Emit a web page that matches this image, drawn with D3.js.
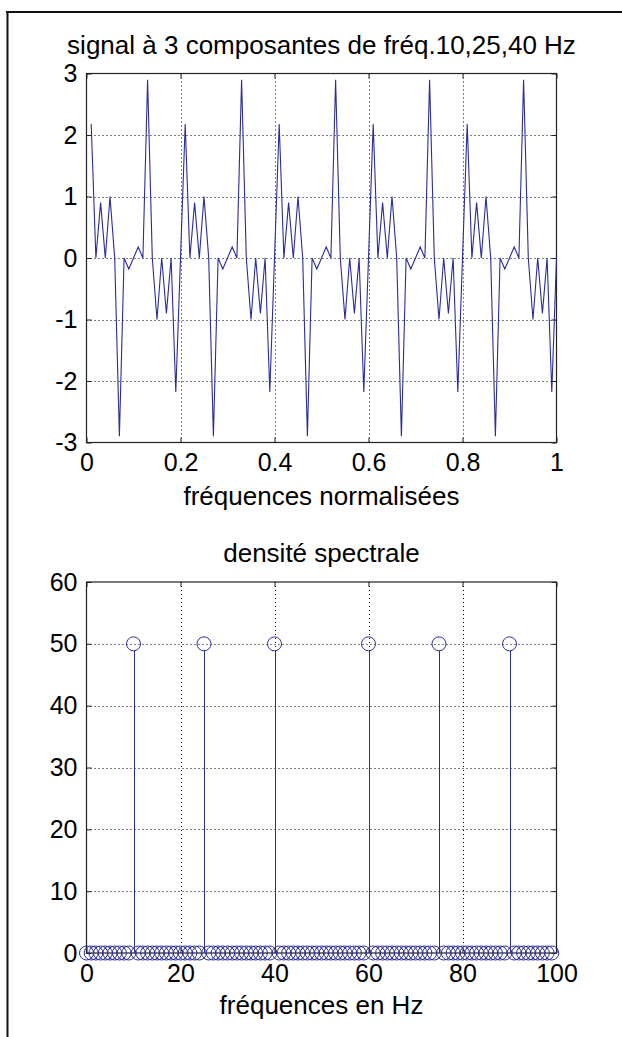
<!DOCTYPE html>
<html>
<head>
<meta charset="utf-8">
<script src="https://cdn.jsdelivr.net/npm/d3@7"></script>
<style>
  html, body { margin: 0; padding: 0; background: #fff; }
  svg { display: block; }
  text { font-family: "Liberation Sans", Arial, sans-serif; fill: #000; }
</style>
</head>
<body>
<script>
// ---------- DATA ----------
// top panel: sampled signal, t = 0.01 .. 1.00 (100 samples)
const signalTitle = "signal à 3 composantes de fréq.10,25,40 Hz";
const signalXLabel = "fréquences normalisées";
const signalTimes = [
  0.01,0.02,0.03,0.04,0.05,0.06,0.07,0.08,0.09,0.10,0.11,0.12,0.13,0.14,0.15,0.16,0.17,0.18,0.19,0.20,
  0.21,0.22,0.23,0.24,0.25,0.26,0.27,0.28,0.29,0.30,0.31,0.32,0.33,0.34,0.35,0.36,0.37,0.38,0.39,0.40,
  0.41,0.42,0.43,0.44,0.45,0.46,0.47,0.48,0.49,0.50,0.51,0.52,0.53,0.54,0.55,0.56,0.57,0.58,0.59,0.60,
  0.61,0.62,0.63,0.64,0.65,0.66,0.67,0.68,0.69,0.70,0.71,0.72,0.73,0.74,0.75,0.76,0.77,0.78,0.79,0.80,
  0.81,0.82,0.83,0.84,0.85,0.86,0.87,0.88,0.89,0.90,0.91,0.92,0.93,0.94,0.95,0.96,0.97,0.98,0.99,1.00
];
const signalValues = [
  2.18,0,0.90,0,1.00,0,-2.90,0,-0.18,0,0.18,0,2.90,0,-1.00,0,-0.90,0,-2.18,0,
  2.18,0,0.90,0,1.00,0,-2.90,0,-0.18,0,0.18,0,2.90,0,-1.00,0,-0.90,0,-2.18,0,
  2.18,0,0.90,0,1.00,0,-2.90,0,-0.18,0,0.18,0,2.90,0,-1.00,0,-0.90,0,-2.18,0,
  2.18,0,0.90,0,1.00,0,-2.90,0,-0.18,0,0.18,0,2.90,0,-1.00,0,-0.90,0,-2.18,0,
  2.18,0,0.90,0,1.00,0,-2.90,0,-0.18,0,0.18,0,2.90,0,-1.00,0,-0.90,0,-2.18,0
];
const signalXTicks = [0, 0.2, 0.4, 0.6, 0.8, 1];
const signalYTicks = [-3, -2, -1, 0, 1, 2, 3];

// bottom panel: spectrum magnitude, bins 0..99 Hz
const spectrumTitle = "densité spectrale";
const spectrumXLabel = "fréquences en Hz";
const spectrumFreqs = [
  0,1,2,3,4,5,6,7,8,9,10,11,12,13,14,15,16,17,18,19,
  20,21,22,23,24,25,26,27,28,29,30,31,32,33,34,35,36,37,38,39,
  40,41,42,43,44,45,46,47,48,49,50,51,52,53,54,55,56,57,58,59,
  60,61,62,63,64,65,66,67,68,69,70,71,72,73,74,75,76,77,78,79,
  80,81,82,83,84,85,86,87,88,89,90,91,92,93,94,95,96,97,98,99
];
const spectrumValues = [
  0,0,0,0,0,0,0,0,0,0,50,0,0,0,0,0,0,0,0,0,
  0,0,0,0,0,50,0,0,0,0,0,0,0,0,0,0,0,0,0,0,
  50,0,0,0,0,0,0,0,0,0,0,0,0,0,0,0,0,0,0,0,
  50,0,0,0,0,0,0,0,0,0,0,0,0,0,0,50,0,0,0,0,
  0,0,0,0,0,0,0,0,0,0,50,0,0,0,0,0,0,0,0,0
];
const spectrumXTicks = [0, 20, 40, 60, 80, 100];
const spectrumYTicks = [0, 10, 20, 30, 40, 50, 60];

// ---------- DRAW ----------
const W = 622, H = 1037;
const blue = "#2c2c9c";
const svg = d3.select("body").append("svg").attr("width", W).attr("height", H);
svg.append("rect").attr("width", W).attr("height", H).attr("fill", "#fff");

// outer figure frame
svg.append("line").attr("x1", 6).attr("x2", W).attr("y1", 12).attr("y2", 12)
  .attr("stroke", "#111").attr("stroke-width", 2);
svg.append("line").attr("x1", 7.5).attr("x2", 7.5).attr("y1", 11).attr("y2", H)
  .attr("stroke", "#111").attr("stroke-width", 2);

const fmt = d => String(d);

function panel(cfg) {
  const { x, y, xTicks, yTicks, title, titleY, xlabel, xlabelY } = cfg;
  const [x0, x1] = x.range();
  const [y0, y1] = y.range(); // y0 bottom, y1 top
  const g = svg.append("g");

  // grid
  g.append("g").selectAll("line").data(xTicks.filter(d => d !== x.domain()[0] && d !== x.domain()[1]))
    .join("line")
    .attr("x1", d => Math.round(x(d)) + 0.5).attr("x2", d => Math.round(x(d)) + 0.5)
    .attr("y1", y1).attr("y2", y0)
    .attr("stroke", "#000").attr("stroke-width", 1).attr("stroke-dasharray", "1,3");
  g.append("g").selectAll("line").data(yTicks.filter(d => d !== y.domain()[0] && d !== y.domain()[1]))
    .join("line")
    .attr("y1", d => Math.round(y(d)) + 0.5).attr("y2", d => Math.round(y(d)) + 0.5)
    .attr("x1", x0).attr("x2", x1)
    .attr("stroke", "#000").attr("stroke-width", 1).attr("stroke-dasharray", "1,3");

  // axes (inward ticks)
  const ax = (gen) => gen.tickSizeInner(-5).tickSizeOuter(0);
  const gb = g.append("g").attr("transform", `translate(0,${y0})`)
    .call(ax(d3.axisBottom(x).tickValues(xTicks).tickFormat(fmt)).tickPadding(11));
  const gt = g.append("g").attr("transform", `translate(0,${y1})`)
    .call(ax(d3.axisTop(x).tickValues(xTicks).tickFormat("")));
  const gl = g.append("g").attr("transform", `translate(${x0},0)`)
    .call(ax(d3.axisLeft(y).tickValues(yTicks).tickFormat(fmt)).tickPadding(9));
  const gr = g.append("g").attr("transform", `translate(${x1},0)`)
    .call(ax(d3.axisRight(y).tickValues(yTicks).tickFormat("")));
  [gb, gt, gl, gr].forEach(a => {
    a.select(".domain").remove();
    a.selectAll("line").attr("stroke", "#222");
    a.selectAll("text").attr("font-size", 25)
      .attr("font-family", '"Liberation Sans", Arial, sans-serif').attr("fill", "#000");
  });

  // box
  g.append("rect").attr("x", x0).attr("y", y1).attr("width", x1 - x0).attr("height", y0 - y1)
    .attr("fill", "none").attr("stroke", "#222").attr("stroke-width", 1.2);

  // title & label
  const cx = (x0 + x1) / 2;
  g.append("text").attr("x", cx).attr("y", titleY).attr("text-anchor", "middle")
    .attr("font-size", 26).text(title);
  g.append("text").attr("x", cx).attr("y", xlabelY).attr("text-anchor", "middle")
    .attr("font-size", 26).text(xlabel);
  return g;
}

// top panel
const xS = d3.scaleLinear().domain([0, 1]).range([86.5, 556.5]);
const yS = d3.scaleLinear().domain([-3, 3]).range([442.5, 73.5]);
const gTop = panel({ x: xS, y: yS, xTicks: signalXTicks, yTicks: signalYTicks,
  title: signalTitle, titleY: 54, xlabel: signalXLabel, xlabelY: 505 });

const line = d3.line().x((d, i) => xS(signalTimes[i])).y(d => yS(d));
svg.append("path").datum(signalValues).attr("d", line)
  .attr("fill", "none").attr("stroke", blue).attr("stroke-width", 1.1)
  .attr("stroke-linejoin", "miter");

// bottom panel
const xF = d3.scaleLinear().domain([0, 100]).range([86.5, 556.5]);
const yF = d3.scaleLinear().domain([0, 60]).range([953, 582]);
const gBot = panel({ x: xF, y: yF, xTicks: spectrumXTicks, yTicks: spectrumYTicks,
  title: spectrumTitle, titleY: 562, xlabel: spectrumXLabel, xlabelY: 1014 });

const stems = spectrumFreqs.map((f, i) => ({ f, v: spectrumValues[i] }));
svg.append("g").selectAll("line").data(stems.filter(d => d.v !== 0)).join("line")
  .attr("x1", d => Math.round(xF(d.f)) + 0.5).attr("x2", d => Math.round(xF(d.f)) + 0.5)
  .attr("y1", yF(0)).attr("y2", d => yF(d.v) + 7)
  .attr("stroke", blue).attr("stroke-width", 1);
svg.append("g").selectAll("circle").data(stems).join("circle")
  .attr("cx", d => xF(d.f)).attr("cy", d => yF(d.v)).attr("r", 7)
  .attr("fill", "none").attr("stroke", blue).attr("stroke-width", 1);
</script>
</body>
</html>
